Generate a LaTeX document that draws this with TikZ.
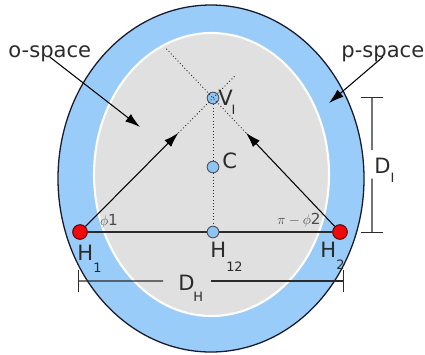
\documentclass[tikz,border=0pt]{standalone}
\usepackage{fontspec}
\setmainfont{DejaVu Sans}
\usetikzlibrary{arrows.meta,calc}
\definecolor{ring}{HTML}{99CCF9}
\definecolor{core}{HTML}{E0E0E0}
\definecolor{rim}{HTML}{1A1A2E}
\definecolor{ink}{HTML}{2B2B2B}
\definecolor{dotblue}{HTML}{8CC4F2}
\definecolor{hred}{HTML}{EE0A0A}
\newcommand{\lowsub}[2][11pt]{\raisebox{-#1}{\fontsize{11}{11}\selectfont #2}}
\tikzset{
  site/.style={circle,draw=rim!75,fill=dotblue,line width=0.8pt,inner sep=0pt,minimum size=3.5mm},
  host/.style={circle,draw=red!35!black,fill=hred,line width=0.8pt,inner sep=0pt,minimum size=4.4mm},
  lbl/.style={font=\fontsize{18}{18}\selectfont,text=ink,inner sep=1pt},
  ang/.style={font=\fontsize{13}{13}\selectfont,text=ink!85,inner sep=1pt},
  wire/.style={draw=ink,line width=0.9pt},
  guide/.style={draw=ink,line width=0.8pt,dotted},
  point/.style={-{Latex[length=4.5mm,width=2.8mm]},draw=black,line width=0.9pt},
  dim/.style={draw=ink,line width=0.9pt},
}

\begin{document}
\begin{tikzpicture}[x=0.03cm,y=-0.03cm]
  \useasboundingbox (0,0) rectangle (425,354);
  % p-space ring and o-space core
  \fill[ring,draw=rim,line width=1.1pt] (211,178.5) ellipse [x radius=153,y radius=173.5];
  \fill[core,draw=white,line width=1.8pt] (211.5,174.5) ellipse [x radius=117.5,y radius=141.5];
  \node[host] (H1) at (80,232) {};
  \node[host] (H2) at (340,232) {};
  \node[site] (H12) at (213,232) {};
  \node[site] (C) at (213,167) {};
  \node[site] (VI) at (213,98) {};
  \node[lbl,anchor=base west] (H1l) at (76,260) {H\lowsub{1}};
  \node[lbl,anchor=base west] (H12l) at (209,257) {H\lowsub[12pt]{12}};
  \node[lbl,anchor=base west] (H2l) at (319,257) {H\lowsub{2}};
  \node[lbl,anchor=base west] (VIl) at (217,105) {V\kern-1pt\lowsub[8pt]{I}};
  \node[lbl,anchor=base west] (Cl) at (221,168) {C};
  \node[ang] (phi1) at (109,221) {$\phi$1};
  \node[ang] (phi2) at (299,220) {$\pi-\phi$2};
  \node[lbl,anchor=base west] (olab) at (7,57) {o-space};
  \node[lbl,anchor=base west] (plab) at (340,57) {p-space};
  \coordinate (otip) at (140,127);
  \coordinate (ptip) at (329,103);
  \draw[point] (olab.base) -- (otip);
  \draw[point] (plab.base) -- (ptip);
  % base line and the two sight lines
  \draw[wire] (H1) -- (H12);
  \draw[wire] (H12) -- (H2);
  \draw[guide] (VI) -- (C);
  \draw[guide] (C) -- (H12);
  \foreach \h/\e in {H1/1.17,H2/1.37} {
    \draw[point] (\h) -- ($(\h)!0.74!(VI)$);
    \draw[guide] ($(\h)!0.74!(VI)$) -- ($(\h)!\e!(VI)$);
  }
  % dimensions
  \coordinate (DIt) at (372,97);
  \coordinate (DIb) at (372,233);
  \node[lbl,anchor=base west] (DI) at (373,173) {D\lowsub[8pt]{I}};
  \draw[dim,{Bar[width=6.5mm]}-] (DIt) -- ($(DIt)!0.39!(DIb)$);
  \draw[dim,-{Bar[width=6.5mm]}] ($(DIt)!0.6!(DIb)$) -- (DIb);
  \coordinate (DHl) at (78,281);
  \coordinate (DHr) at (344,281);
  \node[lbl,anchor=base west] (DH) at (177,290) {D\kern-1pt\lowsub[10pt]{H}};
  \draw[dim,{Bar[width=6.5mm]}-] (DHl) -- ($(DHl)!0.32!(DHr)$);
  \draw[dim,-{Bar[width=6.5mm]}] ($(DHl)!0.5!(DHr)$) -- (DHr);
\end{tikzpicture}
\end{document}
